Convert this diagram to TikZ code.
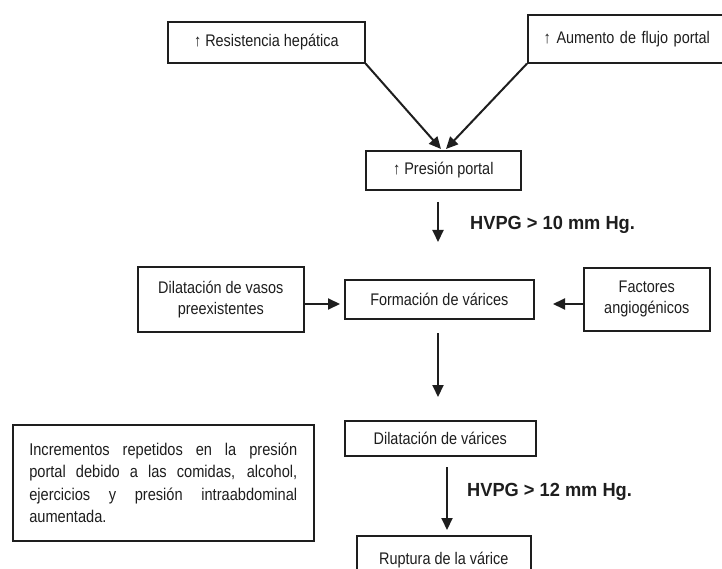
\documentclass[tikz,border=0pt]{standalone}
\usepackage{fontspec}
\setmainfont{Liberation Sans}
\newfontfamily\narrowfont[FakeStretch=0.86]{Liberation Sans}
\newfontfamily\boldlblfont[FakeStretch=0.96]{Liberation Sans Bold}
\usetikzlibrary{arrows.meta}
\definecolor{ink}{HTML}{1E1E1E}
\begin{document}
\begin{tikzpicture}[x=1pt,y=-1pt,
  bx/.style={draw=ink, line width=1.6pt, fill=white, text=ink, inner sep=0pt, anchor=north west,
     font=\narrowfont\fontsize{16.8}{21}\selectfont, align=center},
  arr/.style={draw=ink, line width=2pt, -{Triangle[length=12pt,width=11pt]}},
  lbl/.style={text=ink, anchor=west, inner sep=0pt, font=\boldlblfont\fontsize{19}{22}\selectfont}]
\useasboundingbox (0,0) rectangle (722,569);
\clip (0,0) rectangle (722,569);
\fill[white] (0,0) rectangle (722,569);
% top boxes
\node[bx, minimum width=197pt, minimum height=41pt] (A) at (167,21) {↑ Resistencia hepática};
\node[bx, minimum width=200pt, minimum height=48pt, text width=200pt] (B) at (527,14) {\hspace*{-2pt}↑ Aumento de flujo portal};
\node[bx, minimum width=155pt, minimum height=39pt] (C) at (365,150) {↑ Presión portal};
\coordinate (cl) at (441,149);
\coordinate (cr) at (446,149);
\draw[arr] (A.south east) -- (cl);
\draw[arr] (B.south west) -- (cr);
% row 2
\node[bx, minimum width=166pt, minimum height=65pt] (E) at (137,266) {Dilatación de vasos\\preexistentes};
\node[bx, minimum width=189pt, minimum height=39pt] (D) at (344,279) {Formación de várices};
\node[bx, minimum width=126pt, minimum height=63pt] (F) at (583,267) {Factores\\angiogénicos};
\coordinate (p1) at (438,202);
\coordinate (p2) at (438,242);
\draw[arr] (p1) -- (p2);
\node[lbl] (L1) at (470,225) {HVPG > 10 mm Hg.};
\coordinate (e1) at (E.east |- 0,304);
\coordinate (e2) at (340,304);
\draw[arr] (e1) -- (e2);
\coordinate (f1) at (F.west |- 0,304);
\coordinate (f2) at (553,304);
\draw[arr] (f1) -- (f2);
% row 3
\coordinate (d1) at (438,333);
\coordinate (d2) at (438,397);
\draw[arr] (d1) -- (d2);
\node[bx, minimum width=191pt, minimum height=35pt] (G) at (344,420) {Dilatación de várices};
\node[bx, minimum width=301pt, minimum height=116pt, text width=268pt, align=justify,
   font=\narrowfont\fontsize{17}{22.5}\selectfont] (H) at (12,424)
  {Incrementos repetidos en la presión\linebreak portal debido a las comidas, alcohol,\linebreak ejercicios y presión intraabdominal\linebreak aumentada.};
\coordinate (g1) at (447,467);
\coordinate (g2) at (447,530);
\draw[arr] (g1) -- (g2);
\node[lbl] (L2) at (467,492) {HVPG > 12 mm Hg.};
\node[bx, minimum width=174pt, minimum height=48pt, anchor=north west] (I) at (356,535) {\raisebox{-4pt}{Ruptura de la várice}};
\end{tikzpicture}
\end{document}
